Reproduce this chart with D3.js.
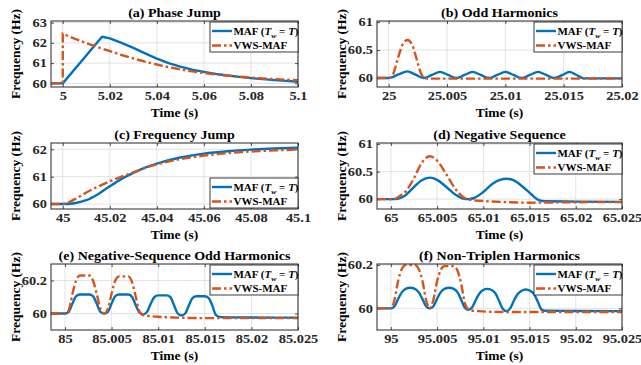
<!DOCTYPE html>
<html><head><meta charset="utf-8">
<script src="https://cdn.jsdelivr.net/npm/d3@7"></script>
<style>body{margin:0;background:#fff}svg{display:block}</style>
</head><body>
<svg id="chart" width="641" height="365"></svg>
<script>
// ---------------- DATA ----------------
// (a) Phase Jump
const aXTicks = [5, 5.02, 5.04, 5.06, 5.08, 5.1];
const aXLabels = ["5", "5.02", "5.04", "5.06", "5.08", "5.1"];
const aYTicks = [60, 61, 62, 63];
const aYLabels = ["60", "61", "62", "63"];
const aMAF = [[4.995,60],[5.0,60],[5.0167,62.3],[5.02,62.22],[5.025,62.0],[5.03,61.75],[5.035,61.48],[5.04,61.22],[5.045,61.0],[5.05,60.83],[5.055,60.68],[5.06,60.57],[5.065,60.47],[5.07,60.39],[5.075,60.32],[5.08,60.26],[5.085,60.21],[5.09,60.16],[5.095,60.12],[5.1,60.08]];
const aVWS = [[4.995,60],[5.0,60],[5.0,62.45],[5.005,62.21],[5.01,61.99],[5.015,61.78],[5.02,61.59],[5.025,61.4],[5.03,61.23],[5.035,61.07],[5.04,60.93],[5.045,60.8],[5.05,60.69],[5.055,60.59],[5.06,60.51],[5.065,60.44],[5.07,60.38],[5.075,60.33],[5.08,60.28],[5.085,60.24],[5.09,60.21],[5.095,60.18],[5.1,60.15]];

// (b) Odd Harmonics
const bXTicks = [25, 25.005, 25.01, 25.015, 25.02];
const bXLabels = ["25", "25.005", "25.01", "25.015", "25.02"];
const bYTicks = [60, 60.5, 61];
const bYLabels = ["60", "60.5", "61"];
const bMAF = [[24.999,60],[25.0,60],[25.0008,60.06],[25.0016,60.12],[25.0023,60.06],[25.003,60.0],[25.0037,60.055],[25.0044,60.11],[25.0051,60.055],[25.0058,60.0],[25.0065,60.055],[25.0072,60.11],[25.0079,60.055],[25.0086,60.0],[25.0093,60.055],[25.01,60.11],[25.0107,60.055],[25.0114,60.0],[25.0121,60.055],[25.0128,60.11],[25.0135,60.055],[25.0142,60.0],[25.0149,60.055],[25.0155,60.11],[25.0161,60.055],[25.0167,59.995],[25.02,59.995]];
const bVWS = [[24.999,60],[25.0,60],[25.0004,60.08],[25.0008,60.36],[25.0012,60.6],[25.0016,60.68],[25.002,60.6],[25.0024,60.34],[25.0028,60.07],[25.0032,59.99],[25.005,59.99],[25.02,59.99]];

// (c) Frequency Jump
const cXTicks = [45, 45.02, 45.04, 45.06, 45.08, 45.1];
const cXLabels = ["45", "45.02", "45.04", "45.06", "45.08", "45.1"];
const cYTicks = [60, 61, 62];
const cYLabels = ["60", "61", "62"];
const cMAF = [[44.995,60],[45.0,60],[45.005,60.03],[45.01,60.14],[45.015,60.36],[45.02,60.65],[45.025,60.92],[45.03,61.14],[45.035,61.33],[45.04,61.48],[45.05,61.7],[45.06,61.84],[45.07,61.93],[45.08,61.99],[45.09,62.03],[45.1,62.06]];
const cVWS = [[44.995,60],[45.0,60],[45.005,60.17],[45.01,60.42],[45.015,60.64],[45.02,60.83],[45.025,61.0],[45.03,61.16],[45.035,61.32],[45.04,61.45],[45.05,61.64],[45.06,61.77],[45.07,61.86],[45.08,61.92],[45.09,61.96],[45.1,61.99]];

// (d) Negative Sequence
const dXTicks = [65, 65.005, 65.01, 65.015, 65.02, 65.025];
const dXLabels = ["65", "65.005", "65.01", "65.015", "65.02", "65.025"];
const dYTicks = [60, 60.5, 61];
const dYLabels = ["60", "60.5", "61"];
const dMAF = [[64.9985,60],[65.0,60],[65.0005,60.0],[65.0015,60.06],[65.0025,60.22],[65.0033,60.34],[65.0042,60.39],[65.005,60.35],[65.006,60.22],[65.007,60.08],[65.0078,60.01],[65.0084,60.0],[65.009,60.02],[65.01,60.13],[65.011,60.28],[65.0118,60.35],[65.0125,60.37],[65.0133,60.34],[65.0143,60.22],[65.0153,60.07],[65.016,59.98],[65.0167,59.96],[65.02,59.955],[65.025,59.95]];
const dVWS = [[64.9985,60],[65.0,60],[65.0005,60.01],[65.001,60.06],[65.0017,60.16],[65.0025,60.38],[65.0033,60.65],[65.0042,60.78],[65.005,60.7],[65.006,60.45],[65.007,60.18],[65.0078,60.04],[65.0085,59.99],[65.01,59.965],[65.0125,59.945],[65.015,59.935],[65.018,59.94],[65.022,59.945],[65.025,59.945]];

// (e) Negative-Sequence Odd Harmonics
const eXTicks = [85, 85.005, 85.01, 85.015, 85.02, 85.025];
const eXLabels = ["85", "85.005", "85.01", "85.015", "85.02", "85.025"];
const eYTicks = [60, 60.2];
const eYLabels = ["60", "60.2"];
const eMAF = [[84.9985,60],[85.0,60],[85.0004,60.01],[85.0008,60.06],[85.0012,60.105],[85.0016,60.115],[85.0026,60.115],[85.003,60.105],[85.0034,60.06],[85.0038,60.01],[85.0042,60.0],[85.0046,60.01],[85.005,60.06],[85.0054,60.105],[85.0058,60.115],[85.0068,60.115],[85.0072,60.1],[85.0076,60.05],[85.008,60.005],[85.0084,59.995],[85.0088,60.01],[85.0092,60.06],[85.0096,60.1],[85.01,60.11],[85.0109,60.11],[85.0113,60.1],[85.0117,60.05],[85.0121,60.0],[85.0125,59.988],[85.0129,60.0],[85.0133,60.05],[85.0137,60.095],[85.0141,60.105],[85.015,60.105],[85.0154,60.095],[85.0158,60.05],[85.0162,59.99],[85.0167,59.978],[85.02,59.976],[85.025,59.975]];
const eVWS = [[84.9985,60],[85.0,60],[85.0004,60.02],[85.0008,60.12],[85.0012,60.2],[85.0016,60.23],[85.0026,60.23],[85.003,60.2],[85.0034,60.12],[85.0038,60.03],[85.0042,60.0],[85.0046,60.03],[85.005,60.12],[85.0054,60.2],[85.0058,60.225],[85.0068,60.225],[85.0072,60.19],[85.0076,60.1],[85.008,60.01],[85.0084,59.99],[85.009,59.985],[85.01,59.98],[85.012,59.975],[85.015,59.972],[85.02,59.972],[85.025,59.972]];

// (f) Non-Triplen Harmonics
const fXTicks = [95, 95.005, 95.01, 95.015, 95.02, 95.025];
const fXLabels = ["95", "95.005", "95.01", "95.015", "95.02", "95.025"];
const fYTicks = [60, 60.2];
const fYLabels = ["60", "60.2"];
const fMAF = [[94.9985,60],[95.0,60],[95.0004,60.01],[95.0008,60.045],[95.0012,60.075],[95.0016,60.09],[95.0021,60.095],[95.0026,60.09],[95.003,60.075],[95.0034,60.045],[95.0038,60.01],[95.0042,60.0],[95.0046,60.01],[95.005,60.045],[95.0054,60.075],[95.0058,60.09],[95.0063,60.095],[95.0068,60.09],[95.0072,60.075],[95.0076,60.04],[95.008,60.003],[95.0084,59.993],[95.0088,60.005],[95.0092,60.04],[95.0096,60.07],[95.01,60.085],[95.0104,60.09],[95.0109,60.085],[95.0113,60.07],[95.0117,60.035],[95.0121,59.998],[95.0125,59.987],[95.0129,60.0],[95.0133,60.035],[95.0137,60.065],[95.0141,60.08],[95.0146,60.087],[95.0151,60.08],[95.0155,60.065],[95.0159,60.03],[95.0163,59.995],[95.0167,59.989],[95.02,59.988],[95.025,59.987]];
const fVWS = [[94.9985,60],[95.0,60],[95.0004,60.04],[95.0008,60.13],[95.0012,60.183],[95.0016,60.2],[95.0026,60.2],[95.003,60.183],[95.0034,60.13],[95.0038,60.04],[95.0042,60.0],[95.0046,60.04],[95.005,60.125],[95.0054,60.178],[95.0058,60.195],[95.0068,60.195],[95.0072,60.175],[95.0076,60.115],[95.008,60.025],[95.0085,59.992],[95.0095,59.987],[95.011,59.984],[95.014,59.983],[95.02,59.983],[95.025,59.983]];

const titles = ["(a) Phase Jump", "(b) Odd Harmonics", "(c) Frequency Jump", "(d) Negative Sequence", "(e) Negative-Sequence Odd Harmonics", "(f) Non-Triplen Harmonics"];

// ---------------- LAYOUT ----------------
const colX = [[51, 298], [377, 622]];
const rowY = [[21, 87], [143, 209], [264, 330]];
const BLUE = "#0072BD", ORANGE = "#D95319", AX = "#262626";
const FONT = "'Liberation Serif','Times New Roman',serif";

const panels = [
  {t: titles[0], c: 0, r: 0, xd: [4.995, 5.1], yd: [59.82, 63.08], xt: aXTicks, xl: aXLabels, yt: aYTicks, yl: aYLabels, maf: aMAF, vws: aVWS, leg: "top", curve: d3.curveLinear},
  {t: titles[1], c: 1, r: 0, xd: [24.999, 25.02], yd: [59.84, 61.02], xt: bXTicks, xl: bXLabels, yt: bYTicks, yl: bYLabels, maf: bMAF, vws: bVWS, leg: "top", curve: d3.curveMonotoneX},
  {t: titles[2], c: 0, r: 1, xd: [44.995, 45.1], yd: [59.82, 62.23], xt: cXTicks, xl: cXLabels, yt: cYTicks, yl: cYLabels, maf: cMAF, vws: cVWS, leg: "bottom", curve: d3.curveMonotoneX},
  {t: titles[3], c: 1, r: 1, xd: [64.9985, 65.025], yd: [59.82, 61.02], xt: dXTicks, xl: dXLabels, yt: dYTicks, yl: dYLabels, maf: dMAF, vws: dVWS, leg: "top", curve: d3.curveMonotoneX},
  {t: titles[4], c: 0, r: 2, xd: [84.9985, 85.025], yd: [59.9, 60.3], xt: eXTicks, xl: eXLabels, yt: eYTicks, yl: eYLabels, maf: eMAF, vws: eVWS, leg: "top", curve: d3.curveMonotoneX},
  {t: titles[5], c: 1, r: 2, xd: [94.9985, 95.025], yd: [59.9, 60.205], xt: fXTicks, xl: fXLabels, yt: fYTicks, yl: fYLabels, maf: fMAF, vws: fVWS, leg: "top", curve: d3.curveMonotoneX}
];

const svg = d3.select("#chart");
const TICK_SX = 1.2, TITLE_SX = 1.08, LEG_SX = 1.1;

panels.forEach((p, i) => {
  const [x0, x1] = colX[p.c];
  const [y0, y1] = rowY[p.r];
  const x = d3.scaleLinear().domain(p.xd).range([x0, x1]);
  const y = d3.scaleLinear().domain(p.yd).range([y1, y0]);
  const g = svg.append("g");

  // grid
  g.append("g").selectAll("line").data(p.xt).join("line")
    .attr("x1", d => x(d)).attr("x2", d => x(d)).attr("y1", y0).attr("y2", y1)
    .attr("stroke", "#dcdcdc").attr("stroke-width", 0.8);
  g.append("g").selectAll("line").data(p.yt).join("line")
    .attr("x1", x0).attr("x2", x1).attr("y1", d => y(d)).attr("y2", d => y(d))
    .attr("stroke", "#dcdcdc").attr("stroke-width", 0.8);

  // axes
  const xa = g.append("g").attr("transform", `translate(0,${y1})`)
    .call(d3.axisBottom(x).tickValues(p.xt).tickFormat((d, k) => p.xl[k]).tickSizeInner(-3).tickSizeOuter(0).tickPadding(4));
  const ya = g.append("g").attr("transform", `translate(${x0},0)`)
    .call(d3.axisLeft(y).tickValues(p.yt).tickFormat((d, k) => p.yl[k]).tickSizeInner(-3).tickSizeOuter(0).tickPadding(4));
  g.append("g").attr("transform", `translate(0,${y0})`)
    .call(d3.axisTop(x).tickValues(p.xt).tickFormat("").tickSizeInner(-3).tickSizeOuter(0));
  g.append("g").attr("transform", `translate(${x1},0)`)
    .call(d3.axisRight(y).tickValues(p.yt).tickFormat("").tickSizeInner(-3).tickSizeOuter(0));
  g.selectAll(".domain").remove();
  g.selectAll(".tick line").attr("stroke", AX).attr("stroke-width", 0.8);
  [xa, ya].forEach(a => a.selectAll("text")
    .attr("font-family", FONT).attr("font-weight", "bold").attr("font-size", 12).attr("fill", AX));
  xa.selectAll("text").attr("transform", `scale(${TICK_SX},1)`);
  ya.selectAll("text").attr("x", -4 / TICK_SX).attr("transform", `scale(${TICK_SX},1)`);

  // clip
  const cid = "clip" + i;
  svg.append("clipPath").attr("id", cid).append("rect")
    .attr("x", x0).attr("y", y0).attr("width", x1 - x0).attr("height", y1 - y0);

  const line = d3.line().x(d => x(d[0])).y(d => y(d[1])).curve(p.curve);
  const plot = g.append("g").attr("clip-path", `url(#${cid})`);
  plot.append("path").attr("d", line(p.maf)).attr("fill", "none")
    .attr("stroke", BLUE).attr("stroke-width", 2.4).attr("stroke-linejoin", "round");
  plot.append("path").attr("d", line(p.vws)).attr("fill", "none")
    .attr("stroke", ORANGE).attr("stroke-width", 2.4).attr("stroke-dasharray", "9,3,2.5,3");

  // box
  g.append("rect").attr("x", x0).attr("y", y0).attr("width", x1 - x0).attr("height", y1 - y0)
    .attr("fill", "none").attr("stroke", AX).attr("stroke-width", 1);

  // title
  g.append("text").attr("transform", `translate(${(x0 + x1) / 2},${y0 - 4.5}) scale(${TITLE_SX},1)`)
    .attr("text-anchor", "middle").attr("font-family", FONT).attr("font-weight", "bold")
    .attr("font-size", 13).attr("fill", "#000").text(p.t);
  // x label
  g.append("text").attr("transform", `translate(${(x0 + x1) / 2},${y1 + 30})`)
    .attr("text-anchor", "middle").attr("font-family", FONT).attr("font-weight", "bold")
    .attr("font-size", 13.5).attr("fill", "#000").text("Time (s)");
  // y label
  g.append("text").attr("transform", `translate(${x0 - 31.5},${(y0 + y1) / 2}) rotate(-90)`)
    .attr("text-anchor", "middle").attr("font-family", FONT).attr("font-weight", "bold")
    .attr("font-size", 13.5).attr("fill", "#000").text("Frequency (Hz)");

  // legend
  const lw = 88, lh = 30;
  const lx = x1 - lw, ly = p.leg === "top" ? y0 + 1 : y1 - lh - 1;
  const lg = g.append("g");
  lg.append("rect").attr("x", lx).attr("y", ly).attr("width", lw).attr("height", lh)
    .attr("fill", "#fff").attr("stroke", AX).attr("stroke-width", 0.9);
  lg.append("line").attr("x1", lx + 2).attr("x2", lx + 22).attr("y1", ly + 9).attr("y2", ly + 9)
    .attr("stroke", BLUE).attr("stroke-width", 2.4);
  lg.append("line").attr("x1", lx + 2).attr("x2", lx + 22).attr("y1", ly + 23.5).attr("y2", ly + 23.5)
    .attr("stroke", ORANGE).attr("stroke-width", 2.4).attr("stroke-dasharray", "9,3,2.5,3");
  const t1 = lg.append("text").attr("transform", `translate(${lx + 23.5},${ly + 12.5}) scale(${LEG_SX},1)`)
    .attr("font-family", FONT).attr("font-weight", "bold").attr("font-size", 10).attr("fill", "#000");
  t1.append("tspan").text("MAF (");
  t1.append("tspan").attr("font-style", "italic").text("T");
  t1.append("tspan").attr("font-style", "italic").attr("font-size", 7).attr("dy", 3).text("w");
  t1.append("tspan").attr("dy", -3).text(" = ");
  t1.append("tspan").attr("font-style", "italic").text("T");
  t1.append("tspan").text(")");
  lg.append("text").attr("transform", `translate(${lx + 23.5},${ly + 27}) scale(${LEG_SX},1)`)
    .attr("font-family", FONT).attr("font-weight", "bold").attr("font-size", 10).attr("fill", "#000")
    .text("VWS-MAF");
});
</script>
</body></html>
